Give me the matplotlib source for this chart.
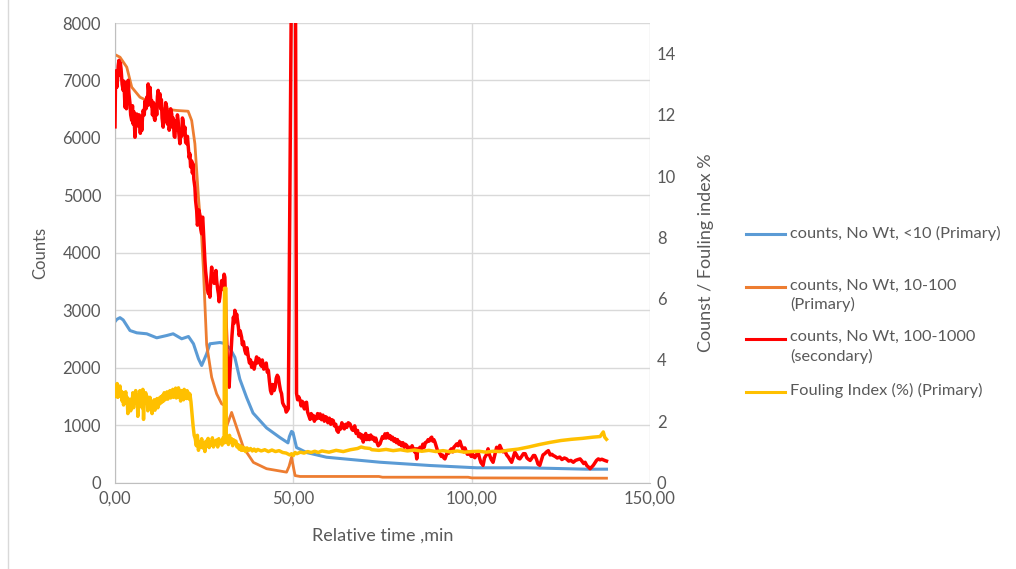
import matplotlib
matplotlib.use("Agg")
import matplotlib.pyplot as plt
from matplotlib.lines import Line2D

plt.rcParams['font.family'] = ['Lato', 'DejaVu Sans']

# ---- counts, No Wt, <10 (primary axis) ----
time_blue = [0.0, 0.5, 1.4, 2.3, 4.2, 6.1, 8.9, 11.7, 14.5, 16.3, 18.7, 20.6, 22.0,
             23.4, 24.3, 25.7, 26.6, 29.4, 30.4, 32.2, 33.6, 35.0, 36.9, 38.7, 42.5,
             46.3, 48.5, 48.9, 49.5, 49.9, 50.9, 53.7, 59.3, 74.3, 88.3, 101.4, 115.4,
             132.2, 137.8]
counts_blue = [2800, 2840, 2870, 2830, 2646, 2606, 2589, 2519, 2559, 2589, 2502, 2542, 2415,
               2154, 2037, 2241, 2415, 2437, 2425, 2340, 2180, 1800, 1480, 1210, 950,
               780, 690, 800, 890, 870, 609, 522, 440, 353, 296, 256, 256,
               232, 232]

# ---- counts, No Wt, 10-100 (primary axis) ----
time_orange = [0.0, 1.4, 3.3, 4.7, 7.0, 8.9, 10.7, 13.5, 17.3, 20.5, 21.5, 22.4, 22.9,
               23.4, 24.3, 24.8, 25.2, 25.7, 26.2, 27.1, 28.5, 29.9, 30.8, 31.3, 32.7,
               34.1, 36.0, 38.8, 42.5, 48.1, 48.8, 49.5, 50.2, 50.5, 51.9, 74.0, 75.0,
               99.0, 100.0, 137.8]
counts_orange = [7450, 7405, 7231, 6882, 6708, 6651, 6593, 6506, 6477, 6464, 6302, 5897, 5432,
                 4967, 4270, 3691, 3111, 2400, 2200, 1833, 1544, 1370, 1340, 975, 1220,
                 960, 610, 350, 240, 180, 280, 440, 210, 120, 105, 105, 92,
                 92, 80, 75]

# ---- counts, No Wt, 100-1000 (secondary axis) ----
time_red = [
    0.0, 0.15, 0.3, 0.5, 0.7, 0.9, 1.1, 1.3, 1.5, 1.7, 2.0, 2.3, 2.5, 2.8, 3.0, 3.2, 3.5,
    3.7, 3.9, 4.2, 4.4, 4.7, 4.9, 5.1, 5.3, 5.6, 5.8, 6.1, 6.3, 6.6, 6.8, 7.1, 7.3, 7.5,
    7.7, 7.9, 8.2, 8.4, 8.7, 8.9, 9.1, 9.3, 9.6, 9.8, 10.1, 10.3, 10.5, 10.8, 11.0, 11.2,
    11.5, 11.7, 11.9, 12.1, 12.3, 12.6, 12.8, 13.0, 13.2, 13.5, 13.7, 13.9, 14.2, 14.5,
    14.7, 14.9, 15.2, 15.4, 15.6, 15.9, 16.1, 16.3, 16.6, 16.8, 17.0, 17.3, 17.5, 17.7,
    17.9, 18.2, 18.4, 18.7, 18.9, 19.1, 19.3, 19.6, 19.8, 20.1, 20.3, 20.6, 20.8, 21.0,
    21.2, 21.5, 21.7, 21.9, 22.1, 22.4, 22.6, 22.9, 23.1, 23.3, 23.5, 23.8, 24.0, 24.3,
    24.5, 24.6, 24.8, 24.9, 25.1, 25.2, 25.4, 25.7, 25.9, 26.2, 26.4, 26.6, 26.8, 27.1,
    27.3, 27.6, 27.8, 28.0, 28.3, 28.5, 28.8, 29.0, 29.2, 29.4, 29.7, 29.9, 30.1, 30.4,
    30.6, 30.8, 31.1, 31.5, 31.7, 32.0, 32.2, 32.4, 32.8, 33.2, 33.4, 33.6, 33.9, 34.1,
    34.6, 34.8, 35.1, 35.5, 35.7, 36.0, 36.4, 36.7, 37.0, 37.4, 37.7, 38.0, 38.3, 38.7,
    39.0, 39.3, 39.7, 40.0, 40.3, 40.6, 41.0, 41.3, 41.7, 42.0, 42.4, 42.7, 43.0, 43.3,
    43.6, 43.9, 44.2, 44.6, 44.9, 45.2, 45.5, 45.8, 46.1, 46.4, 46.7, 47.0, 47.4, 47.7,
    48.0, 48.3, 48.6, 50.3, 50.9, 51.2, 51.5, 51.9, 52.2, 52.5, 52.8, 53.1, 53.4, 53.7,
    54.0, 54.3, 54.7, 55.0, 55.3, 55.6, 55.9, 56.2, 56.5, 56.8, 57.2, 57.5, 57.9, 58.3,
    58.7, 59.0, 59.3, 59.7, 60.1, 60.5, 60.8, 61.2, 61.5, 61.9, 62.2, 62.6, 62.9, 63.3,
    63.6, 64.0, 64.3, 64.7, 65.0, 65.4, 65.9, 66.2, 66.5, 66.8, 67.2, 67.6, 68.0, 68.3,
    68.7, 69.0, 69.3, 69.6, 69.9, 70.3, 70.6, 71.0, 71.3, 71.7, 72.0, 72.4, 72.8, 73.1,
    73.4, 73.8, 74.3, 74.7, 75.0, 75.4, 75.7, 76.0, 76.4, 76.8, 77.1, 77.5, 77.8, 78.2,
    78.5, 78.9, 79.2, 79.6, 79.9, 80.3, 80.7, 81.1, 81.4, 81.8, 82.2, 82.5, 82.9, 83.3,
    83.6, 84.0, 84.3, 84.6, 84.9, 85.2, 85.5, 85.9, 86.3, 86.7, 87.0, 87.4, 87.8, 88.1,
    88.5, 88.8, 89.1, 89.4, 89.7, 90.0, 90.4, 90.8, 91.1, 91.5, 91.8, 92.2, 92.5, 92.9,
    93.2, 93.5, 93.9, 94.3, 94.7, 95.0, 95.4, 95.8, 96.2, 96.7, 97.1, 97.4, 97.8, 98.1,
    98.5, 98.8, 99.2, 99.5, 99.9, 100.2, 100.5, 100.9, 101.3, 101.8, 102.2, 102.6, 103.2,
    103.6, 104.1, 104.6, 105.0, 105.5, 106.0, 106.5, 107.0, 107.5, 107.9, 108.3, 108.8,
    109.3, 109.8, 110.3, 110.7, 111.2, 111.6, 112.1, 112.6, 113.0, 113.5, 114.0, 114.5,
    115.0, 115.5, 116.0, 116.4, 116.9, 117.3, 117.7, 118.2, 118.6, 119.1, 119.6, 120.0,
    120.5, 121.0, 121.5, 122.0, 122.5, 122.9, 123.4, 124.0, 124.7, 125.3, 126.0, 126.6,
    127.2, 127.8, 128.5, 129.1, 129.8, 130.4, 130.9, 131.4, 131.8, 132.3, 132.8, 133.2,
    133.6, 134.1, 134.6, 135.0, 135.5, 136.0, 136.5, 136.9, 137.3, 137.8]
red_secondary = [
    11.61, 13.2, 13.44, 12.9, 13.13, 13.6, 13.78, 13.3, 13.7, 13.50, 13.0, 12.80, 13.1, 12.25,
    12.6, 12.2, 12.9, 13.13, 12.7, 12.38, 12.0, 11.82, 12.3, 11.7, 12.1, 11.27, 11.7, 12.03,
    11.8, 11.63, 12.0, 11.4, 11.9, 11.49, 11.9, 12.15, 12.0, 12.45, 12.2, 12.58, 12.3, 13.01,
    12.6, 12.9, 12.3, 12.47, 12.0, 12.4, 11.9, 11.82, 12.3, 12.0, 12.6, 12.80, 12.4, 12.69,
    12.2, 12.5, 11.9, 11.60, 12.1, 11.8, 12.4, 12.25, 11.7, 12.1, 11.5, 11.71, 12.2, 12.03,
    11.6, 11.9, 11.3, 11.27, 11.8, 11.5, 12.0, 11.82, 11.4, 11.06, 11.5, 11.3, 11.9, 11.82,
    11.4, 11.6, 11.1, 11.06, 11.3, 10.9, 10.6, 10.73, 10.3, 10.5, 10.1, 10.40, 9.9, 9.64,
    9.2, 8.88, 8.4, 8.55, 8.9, 8.72, 8.3, 8.12, 8.66, 8.66, 8.2, 7.90, 7.5, 7.25, 6.9, 6.59,
    6.3, 6.16, 6.3, 6.05, 6.5, 7.03, 6.7, 6.81, 6.5, 6.59, 6.92, 6.6, 6.3, 6.16, 5.9, 6.05,
    6.4, 6.59, 6.3, 6.59, 6.8, 6.70, 5.4, 3.98, 3.5, 3.11, 3.6, 3.98, 4.8, 5.40, 5.2, 5.62,
    5.3, 5.5, 5.07, 4.8, 4.95, 4.74, 4.5, 4.6, 4.31, 4.2, 4.4, 4.09, 3.9, 4.0, 3.76, 3.9,
    3.7, 3.87, 4.1, 3.9, 4.05, 3.98, 3.8, 4.0, 3.7, 3.76, 3.9, 3.6, 3.66, 3.3, 3.0, 2.90,
    3.2, 3.0, 3.11, 3.4, 3.5, 3.44, 3.2, 3.0, 2.90, 2.6, 2.5, 2.46, 2.3, 2.35, 2.41, 30.0,
    2.91, 2.7, 2.8, 2.68, 2.5, 2.65, 2.57, 2.4, 2.6, 2.62, 2.3, 2.2, 2.06, 2.25, 2.1, 2.19,
    2.0, 2.15, 2.08, 2.25, 2.1, 2.24, 2.05, 2.2, 2.0, 2.15, 2.13, 1.95, 2.1, 1.9, 2.05, 2.02,
    1.85, 1.9, 1.7, 1.64, 1.8, 1.75, 1.95, 1.86, 1.75, 1.9, 1.8, 1.95, 1.91, 1.8, 1.72, 1.70,
    1.85, 1.6, 1.7, 1.5, 1.59, 1.45, 1.55, 1.32, 1.45, 1.6, 1.4, 1.53, 1.4, 1.55, 1.42, 1.48,
    1.35, 1.45, 1.32, 1.2, 1.26, 1.4, 1.5, 1.45, 1.59, 1.45, 1.6, 1.45, 1.53, 1.4, 1.48, 1.35,
    1.43, 1.3, 1.4, 1.25, 1.32, 1.2, 1.3, 1.15, 1.25, 1.21, 1.05, 1.15, 1.1, 1.2, 1.10, 1.0,
    1.1, 0.77, 1.1, 1.05, 1.15, 1.05, 1.25, 1.15, 1.3, 1.32, 1.4, 1.35, 1.45, 1.48, 1.35, 1.4,
    1.32, 1.2, 1.05, 1.0, 0.94, 0.85, 0.9, 0.8, 0.77, 0.9, 1.0, 0.95, 1.04, 1.1, 1.0, 1.15,
    1.2, 1.26, 1.2, 1.35, 1.2, 1.13, 1.0, 1.13, 1.0, 0.92, 1.0, 0.92, 0.85, 0.95, 0.85, 0.81,
    0.9, 0.99, 0.8, 0.65, 0.56, 0.8, 0.9, 1.10, 0.9, 0.75, 0.66, 0.9, 1.15, 1.1, 1.21, 1.1,
    1.0, 1.04, 0.9, 0.83, 0.75, 0.66, 0.8, 0.99, 0.9, 0.8, 0.77, 0.85, 0.94, 0.94, 0.8, 0.75,
    0.72, 0.8, 0.88, 0.88, 0.75, 0.6, 0.56, 0.75, 0.9, 0.94, 1.0, 1.04, 0.9, 0.92, 0.88, 0.85,
    0.8, 0.83, 0.75, 0.8, 0.77, 0.7, 0.72, 0.66, 0.72, 0.75, 0.77, 0.7, 0.62, 0.66, 0.55, 0.5,
    0.45, 0.5, 0.56, 0.65, 0.72, 0.77, 0.74, 0.76, 0.74, 0.72, 0.70]

# ---- Fouling Index (%) ----
time_fouling = [0.0, 0.2, 0.4, 0.6, 0.8, 1.0, 1.2, 1.4, 1.6, 1.8, 2.0, 2.2, 2.4, 2.6, 2.8,
                3.0, 3.2, 3.4, 3.6, 3.8, 4.0, 4.2, 4.4, 4.6, 4.8, 5.0, 5.2, 5.4, 5.6, 5.8,
                6.0, 6.2, 6.4, 6.6, 6.8, 7.0, 7.2, 7.4, 7.6, 7.8, 8.0, 8.2, 8.4, 8.6, 8.8,
                9.0, 9.2, 9.4, 9.6, 9.8, 10.0, 10.2, 10.4, 10.6, 10.8, 11.0, 11.2, 11.4,
                11.6, 11.8, 12.0, 12.2, 12.4, 12.6, 12.8, 13.0, 13.2, 13.4, 13.6, 13.8,
                14.0, 14.2, 14.4, 14.6, 14.8, 15.0, 15.2, 15.4, 15.6, 15.8, 16.0, 16.2,
                16.4, 16.6, 16.8, 17.0, 17.2, 17.4, 17.6, 17.8, 18.0, 18.2, 18.4, 18.6,
                18.8, 19.0, 19.2, 19.4, 19.6, 19.8, 20.0, 20.2, 20.4, 20.6, 20.8, 21.0,
                21.3, 21.6, 21.9, 22.2, 22.5, 22.8, 23.1, 23.4, 23.7, 24.0, 24.3, 24.6,
                24.9, 25.2, 25.5, 25.8, 26.1, 26.4, 26.7, 27.0, 27.3, 27.6, 27.9, 28.2,
                28.5, 28.8, 29.1, 29.4, 29.7, 30.0, 30.3, 30.6, 30.7, 31.1, 31.2, 31.5,
                31.8, 32.1, 32.4, 32.7, 33.0, 33.3, 33.6, 33.9, 34.2, 34.5, 34.8, 35.1,
                35.4, 35.7, 36.0, 36.3, 36.6, 37.0, 37.5, 38.0, 38.5, 39.0, 39.5, 40.0,
                41.0, 42.0, 43.0, 44.0, 45.0, 46.0, 47.0, 48.0, 49.0, 49.5, 50.0, 50.5,
                51.0, 52.0, 53.0, 54.0, 55.0, 56.0, 57.0, 58.0, 60.0, 62.0, 64.0, 66.0,
                68.0, 69.0, 70.0, 71.5, 72.0, 74.0, 76.0, 78.0, 80.0, 82.0, 84.0, 86.0,
                88.0, 90.0, 92.0, 94.0, 96.0, 98.0, 100.0, 102.0, 104.0, 106.0, 108.0,
                110.0, 113.0, 116.0, 119.0, 122.0, 125.0, 128.0, 131.0, 134.0, 136.0,
                136.9, 137.3, 137.8]
fouling_index = [2.81, 3.09, 2.93, 3.23, 2.78, 3.00, 2.85, 3.15, 2.81, 2.98, 2.66, 2.93, 2.53,
                 2.81, 2.70, 2.96, 2.59, 2.78, 2.25, 2.63, 2.48, 2.72, 2.34, 2.66, 2.53, 2.93,
                 2.44, 2.78, 2.59, 3.00, 2.66, 2.85, 2.16, 2.74, 2.59, 3.00, 2.63, 2.91, 2.44,
                 3.04, 2.06, 2.78, 2.59, 2.93, 2.66, 2.81, 2.34, 2.72, 2.53, 2.78, 2.44, 2.66,
                 2.25, 2.59, 2.48, 2.70, 2.36, 2.63, 2.51, 2.74, 2.44, 2.68, 2.55, 2.78, 2.59,
                 2.81, 2.63, 2.85, 2.66, 2.93, 2.70, 2.89, 2.74, 2.96, 2.72, 2.93, 2.78, 3.00,
                 2.76, 2.98, 2.81, 3.04, 2.78, 2.96, 2.83, 3.08, 2.76, 3.00, 2.81, 3.09, 2.78,
                 2.96, 2.66, 3.00, 2.81, 2.93, 2.70, 3.04, 2.78, 2.94, 2.74, 3.00, 2.81, 2.93,
                 2.72, 2.89, 2.63, 2.25, 1.84, 1.54, 1.43, 1.20, 1.54, 1.05, 1.31, 1.16, 1.43,
                 1.13, 1.29, 1.01, 1.35, 1.18, 1.44, 1.14, 1.31, 1.22, 1.46, 1.16, 1.35, 1.24,
                 1.39, 1.16, 1.43, 1.28, 1.35, 1.22, 1.46, 1.29, 6.34, 6.34, 1.31, 1.46, 1.24,
                 1.54, 1.31, 1.43, 1.20, 1.39, 1.28, 1.35, 1.16, 1.24, 1.09, 1.20, 1.05, 1.16,
                 1.05, 1.13, 1.01, 1.13, 1.05, 1.11, 1.03, 1.09, 1.02, 1.08, 1.03, 1.07, 1.01,
                 1.06, 1.01, 1.04, 0.98, 0.96, 0.90, 0.94, 0.88, 0.98, 0.94, 0.99, 0.96, 1.01,
                 0.98, 1.02, 0.98, 1.03, 0.99, 1.05, 1.01, 1.07, 1.11, 1.16, 1.13, 1.11, 1.07,
                 1.05, 1.08, 1.04, 1.07, 1.03, 1.06, 1.02, 1.05, 1.01, 1.04, 1.00, 1.03, 0.99,
                 1.01, 1.02, 0.99, 1.02, 1.01, 1.05, 1.09, 1.16, 1.24, 1.31, 1.37, 1.41, 1.44,
                 1.48, 1.50, 1.65, 1.48, 1.41]

series_labels = ["counts, No Wt, <10 (Primary)",
                 "counts, No Wt, 10-100\n(Primary)",
                 "counts, No Wt, 100-1000\n(secondary)",
                 "Fouling Index (%) (Primary)"]
series_colors = ["#5B9BD5", "#ED7D31", "#FF0000", "#FFC000"]

x_ticks = [0, 50, 100, 150]
x_tick_labels = ["0,00", "50,00", "100,00", "150,00"]
left_ticks = list(range(0, 8001, 1000))
right_ticks = list(range(0, 15, 2))

text_color = "#595959"
grid_color = "#D9D9D9"

fig = plt.figure(figsize=(10.16, 5.69), dpi=100)
ax = fig.add_axes([115 / 1016, 1 - 482.5 / 569, 535 / 1016, 459.5 / 569])
ax2 = ax.twinx()

ax.plot(time_blue, counts_blue, color=series_colors[0], lw=2.2, solid_joinstyle="round")
ax.plot(time_orange, counts_orange, color=series_colors[1], lw=2.0, solid_joinstyle="round")
ax2.plot(time_red, red_secondary, color=series_colors[2], lw=2.5, solid_joinstyle="round")
ax2.plot(time_fouling, fouling_index, color=series_colors[3], lw=2.5, solid_joinstyle="round")

ax.set_xlim(0, 150)
ax.set_ylim(0, 8000)
ax2.set_ylim(0, 15)

ax.set_xticks(x_ticks)
ax.set_xticklabels(x_tick_labels)
ax.set_yticks(left_ticks)
ax2.set_yticks(right_ticks)

ax.grid(True, color=grid_color, lw=1.0)
ax.set_axisbelow(True)

for a in (ax, ax2):
    for side in ("top", "right", "left", "bottom"):
        a.spines[side].set_visible(False)
ax.spines["left"].set_visible(True)
ax.spines["bottom"].set_visible(True)
ax.spines["left"].set_color("#BFBFBF")
ax.spines["bottom"].set_color("#BFBFBF")

tick_size = 12
ax.tick_params(axis="both", length=0, labelsize=tick_size, colors=text_color)
ax.tick_params(axis="y", pad=10)
ax.tick_params(axis="x", pad=6)
ax2.tick_params(axis="y", length=0, labelsize=tick_size, colors=text_color, pad=5)

ax.set_xlabel("Relative time ,min", fontsize=13, color=text_color, labelpad=15)
ax.set_ylabel("Counts", fontsize=12, color=text_color, labelpad=10)
ax2.set_ylabel("Counst / Fouling index %", fontsize=13, color=text_color, labelpad=16)

# legend to the right of the plot area
legend_rows = [234, 287, 338.5, 391.5]
for ypix, label, color in zip(legend_rows, series_labels, series_colors):
    yf = 1 - ypix / 569
    fig.add_artist(Line2D([746 / 1016, 785 / 1016], [yf, yf], color=color, lw=2.2,
                          transform=fig.transFigure))
    fig.text(790 / 1016, yf + 8.5 / 569, label, fontsize=11.8, color=text_color,
             va="top", ha="left", linespacing=1.38)

# chart frame edge
fig.add_artist(Line2D([7.5 / 1016, 7.5 / 1016], [0, 1], color="#D9D9D9", lw=1.0,
                      transform=fig.transFigure))

fig.savefig("out.png", dpi=100)
